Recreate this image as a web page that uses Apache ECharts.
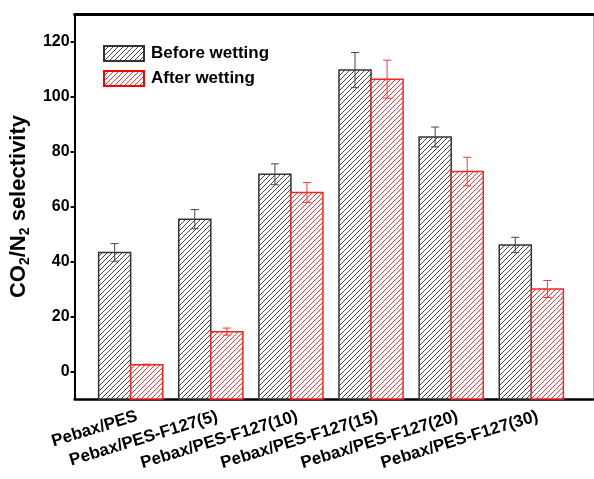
<!DOCTYPE html>
<html>
<head>
<meta charset="utf-8">
<script src="https://cdn.jsdelivr.net/npm/echarts@6/dist/echarts.min.js"></script>
<style>
  html, body { margin: 0; padding: 0; background: #fff; }
  #chart { width: 594px; height: 479px; }
</style>
</head>
<body>
<div id="chart"></div>
<script>
  // data
  const categories = ['Pebax/PES', 'Pebax/PES-F127(5)', 'Pebax/PES-F127(10)', 'Pebax/PES-F127(15)', 'Pebax/PES-F127(20)', 'Pebax/PES-F127(30)']
  const beforeWetting = [43.3, 55.4, 71.7, 109.6, 85.3, 46.0]
  const beforeErr = [3.2, 3.5, 3.8, 6.4, 3.6, 2.8]
  const afterWetting = [2.5, 14.5, 65.1, 106.3, 72.7, 30.0]
  const afterErr = [0.2, 1.3, 3.6, 6.9, 5.2, 3.1]
  const yTicks = [0, 20, 40, 60, 80, 100, 120]

  const yMin = -10
  const yMax = 130
  const xMin = 0.3
  const xMax = 6.77
  const font = "'Liberation Sans', Arial, sans-serif"

  // diagonal hatch ( //// ) as a repeating canvas pattern
  const hatch = (color) => {
    const c = document.createElement('canvas')
    c.width = 5
    c.height = 5
    const ctx = c.getContext('2d')
    ctx.fillStyle = '#fff'
    ctx.fillRect(0, 0, 5, 5)
    ctx.strokeStyle = color
    ctx.lineWidth = 1
    ctx.beginPath()
    ctx.moveTo(-1, 6); ctx.lineTo(6, -1)
    ctx.moveTo(-1, 1); ctx.lineTo(1, -1)
    ctx.moveTo(4, 6); ctx.lineTo(6, 4)
    ctx.stroke()
    return { image: c, repeat: 'repeat' }
  }

  const blackFill = hatch('#444')
  const redFill = hatch('#ff3333')

  // bar + error bar drawn through the axis scales
  const makeRender = (side, fill, stroke, errColor) => (params, api) => {
    const x = api.value(0)
    const top = api.coord([x, api.value(1)])
    const base = api.coord([x, yMin])
    const bw = api.size([0.4, 0])[0]
    const left = side < 0 ? top[0] - bw : top[0]
    const cx = left + bw / 2
    const hi = api.coord([x, api.value(1) + api.value(2)])[1]
    const lo = api.coord([x, api.value(1) - api.value(2)])[1]
    const cap = 4
    return {
      type: 'group',
      children: [
        {
          type: 'rect',
          shape: { x: left, y: top[1], width: bw, height: base[1] - top[1] },
          style: { fill: fill, stroke: stroke, lineWidth: 1.5 },
        },
        {
          type: 'polyline',
          shape: { points: [[cx, hi], [cx, lo]] },
          style: { stroke: errColor, lineWidth: 1, fill: null },
        },
        {
          type: 'line',
          shape: { x1: cx - cap, y1: hi, x2: cx + cap, y2: hi },
          style: { stroke: errColor, lineWidth: 1 },
        },
        {
          type: 'line',
          shape: { x1: cx - cap, y1: lo, x2: cx + cap, y2: lo },
          style: { stroke: errColor, lineWidth: 1 },
        },
      ],
    }
  }

  const chart = echarts.init(document.getElementById('chart'), null, { renderer: 'canvas' })

  const option = {
    animation: false,
    backgroundColor: '#fff',
    textStyle: { fontFamily: font },
    grid: { left: 73, right: 1, top: 14, bottom: 80 },
    legend: {
      left: 103,
      top: 45,
      orient: 'vertical',
      icon: 'rect',
      itemWidth: 40,
      itemHeight: 15,
      itemGap: 8,
      padding: 0,
      textStyle: { fontSize: 17, fontWeight: 'bold', color: '#000', fontFamily: font, padding: [0, 0, 0, 2] },
      data: ['Before wetting', 'After wetting'],
    },
    xAxis: [
      {
        type: 'value',
        min: xMin,
        max: xMax,
        position: 'bottom',
        splitLine: { show: false },
        axisTick: { show: false },
        axisLine: { onZero: false, lineStyle: { color: '#000', width: 2.5 } },
        axisLabel: {
          customValues: categories.map((c, i) => i + 1.08),
          formatter: (v) => categories[Math.round(v) - 1] || '',
          rotate: 17,
          margin: 17,
          fontSize: 17,
          fontWeight: 'bold',
          color: '#000',
          fontFamily: font,
        },
      },
      {
        type: 'value',
        min: xMin,
        max: xMax,
        position: 'top',
        splitLine: { show: false },
        axisTick: { show: false },
        axisLabel: { show: false },
        axisLine: { onZero: false, lineStyle: { color: '#000', width: 3 } },
      },
    ],
    yAxis: [
      {
        type: 'value',
        min: yMin,
        max: yMax,
        position: 'left',
        splitLine: { show: false },
        axisLine: { onZero: false, lineStyle: { color: '#000', width: 2 } },
        axisTick: { customValues: yTicks, length: 4, lineStyle: { color: '#000', width: 2 } },
        axisLabel: {
          customValues: yTicks,
          margin: 5,
          fontSize: 16,
          fontWeight: 'bold',
          color: '#000',
          fontFamily: font,
        },
        name: '{a|CO}{s|2}{a|/N}{s|2}{a| selectivity}',
        nameLocation: 'middle',
        nameGap: 33,
        nameTextStyle: {
          rich: {
            a: { fontSize: 22, fontWeight: 'bold', color: '#000', fontFamily: font, lineHeight: 26, verticalAlign: 'middle' },
            s: { fontSize: 14, fontWeight: 'bold', color: '#000', fontFamily: font, lineHeight: 24, verticalAlign: 'bottom' },
          },
        },
      },
      {
        type: 'value',
        min: yMin,
        max: yMax,
        position: 'right',
        splitLine: { show: false },
        axisTick: { show: false },
        axisLabel: { show: false },
        axisLine: { onZero: false, lineStyle: { color: '#bbb', width: 1 } },
      },
    ],
    series: [
      {
        name: 'Before wetting',
        type: 'custom',
        xAxisIndex: 0,
        yAxisIndex: 0,
        itemStyle: { color: blackFill, borderColor: '#333', borderWidth: 1.5 },
        encode: { x: 0, y: 1 },
        data: beforeWetting.map((v, i) => [i + 1, v, beforeErr[i]]),
        renderItem: makeRender(-1, blackFill, '#333', '#444'),
      },
      {
        name: 'After wetting',
        type: 'custom',
        xAxisIndex: 0,
        yAxisIndex: 0,
        itemStyle: { color: redFill, borderColor: '#ff0000', borderWidth: 1.5 },
        encode: { x: 0, y: 1 },
        data: afterWetting.map((v, i) => [i + 1, v, afterErr[i]]),
        renderItem: makeRender(1, redFill, '#ff2020', '#ff3333'),
      },
    ],
  }

  chart.setOption(option)
</script>
</body>
</html>
